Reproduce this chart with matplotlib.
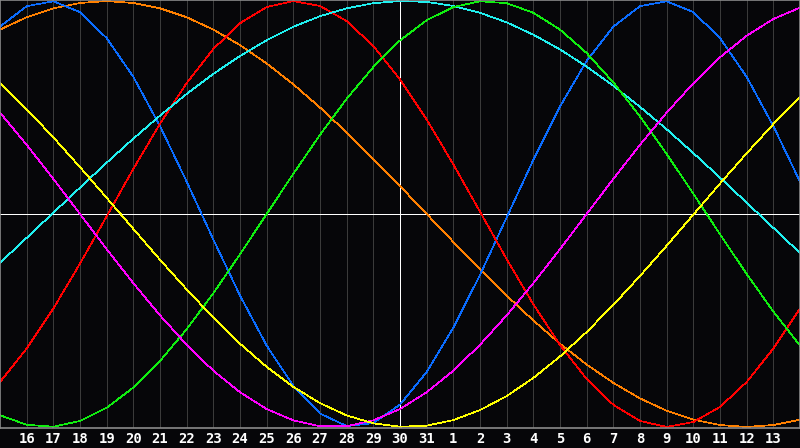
import matplotlib
matplotlib.use('Agg')
import matplotlib.pyplot as plt
import numpy as np

# day labels under the grid (one per gridline), today = 30
day_labels = ['16', '17', '18', '19', '20', '21', '22', '23', '24', '25', '26',
              '27', '28', '29', '30', '31', '1', '2', '3', '4', '5', '6', '7',
              '8', '9', '10', '11', '12', '13']
today = '30'

# daily cycle values (left edge .. right edge, 31 days)
physical = [0.880, 0.976, 0.999, 0.948, 0.826, 0.644, 0.413, 0.152, -0.120, -0.383,
            -0.618, -0.807, -0.937, -0.996, -0.982, -0.895, -0.742, -0.534, -0.286,
            -0.016, 0.254, 0.505, 0.719, 0.880, 0.976, 0.999, 0.948, 0.826, 0.644,
            0.413, 0.152]
emotional = [-0.789, -0.632, -0.444, -0.233, -0.011, 0.212, 0.424, 0.615, 0.775, 0.896,
             0.972, 1.000, 0.977, 0.906, 0.789, 0.632, 0.444, 0.233, 0.011, -0.212,
             -0.424, -0.615, -0.775, -0.896, -0.972, -1.000, -0.977, -0.906, -0.789,
             -0.632, -0.444]
intellectual = [-0.945, -0.990, -0.999, -0.972, -0.910, -0.815, -0.690, -0.541, -0.372,
                -0.189, 0.000, 0.189, 0.372, 0.541, 0.690, 0.815, 0.910, 0.972, 0.999,
                0.990, 0.945, 0.866, 0.756, 0.618, 0.458, 0.282, 0.095, -0.095, -0.282,
                -0.458, -0.618]
intuitive = [0.476, 0.325, 0.165, 0.000, -0.165, -0.325, -0.476, -0.614, -0.736, -0.837,
             -0.916, -0.969, -0.997, -0.997, -0.969, -0.916, -0.837, -0.736, -0.614,
             -0.476, -0.325, -0.165, 0.000, 0.165, 0.325, 0.476, 0.614, 0.736, 0.837,
             0.916, 0.969]
aesthetic = [0.613, 0.492, 0.360, 0.220, 0.076, -0.070, -0.215, -0.354, -0.487, -0.609,
             -0.718, -0.812, -0.888, -0.946, -0.983, -0.999, -0.994, -0.968, -0.921,
             -0.855, -0.770, -0.669, -0.554, -0.427, -0.291, -0.149, -0.003, 0.143,
             0.285, 0.422, 0.549]
awareness = [0.866, 0.924, 0.966, 0.991, 1.000, 0.991, 0.966, 0.924, 0.866, 0.793, 0.707,
             0.609, 0.500, 0.383, 0.259, 0.131, 0.000, -0.131, -0.259, -0.383, -0.500,
             -0.609, -0.707, -0.793, -0.866, -0.924, -0.966, -0.991, -1.000, -0.991,
             -0.966]
spiritual = [-0.229, -0.112, 0.006, 0.124, 0.241, 0.354, 0.462, 0.564, 0.658, 0.742,
             0.816, 0.879, 0.929, 0.966, 0.990, 1.000, 0.996, 0.977, 0.945, 0.900,
             0.842, 0.773, 0.692, 0.602, 0.503, 0.398, 0.286, 0.171, 0.053, -0.065,
             -0.183]

series = [
    (awareness, '#ff8000'),
    (physical, '#0a6cff'),
    (emotional, '#ff0000'),
    (spiritual, '#20f0f0'),
    (intellectual, '#10ee10'),
    (intuitive, '#ff00ff'),
    (aesthetic, '#ffff00'),
]

bg = '#060609'
fig = plt.figure(figsize=(8, 4.48), dpi=100, facecolor=bg)
ax = fig.add_axes([0, 20 / 448, 1, 428 / 448], facecolor=bg)

days = np.arange(len(physical))
ticks = np.arange(1, len(day_labels) + 1)
today_x = ticks[day_labels.index(today)]

for x in ticks:
    if x != today_x:
        ax.axvline(x, color='#3a3a3a', lw=0.5, antialiased=False, zorder=1)
ax.axvline(today_x, color='white', lw=0.7, antialiased=False, zorder=1)
ax.axhline(0, color='white', lw=0.7, antialiased=False, zorder=1)

for vals, col in series:
    ax.plot(days, vals, color=col, lw=0.5, antialiased=False, zorder=2)

ax.set_xlim(0, len(physical) - 1)
ax.set_ylim(-1.005, 1.005)
ax.set_yticks([])
ax.set_xticks(ticks)
ax.set_xticklabels(day_labels, color='white', fontsize=10, fontweight='bold',
                   family='DejaVu Sans Mono')
ax.tick_params(axis='x', length=0, pad=3)
for s in ax.spines.values():
    s.set_color('#8a8a8a')
    s.set_linewidth(1.2)

fig.savefig('out.png', dpi=100, facecolor=bg)
